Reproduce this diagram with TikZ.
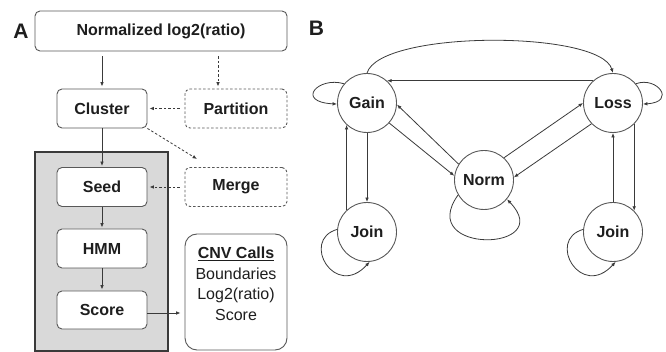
\documentclass[tikz,border=0pt]{standalone}
\usepackage{fontspec}
\setmainfont{Liberation Sans}
\usetikzlibrary{arrows.meta,calc}
\definecolor{ln}{HTML}{3A3A3A}
\definecolor{bx}{HTML}{585858}
\definecolor{gfill}{HTML}{D9D9D9}
\definecolor{txt}{HTML}{1E1E1E}
\begin{document}
\begin{tikzpicture}[x=1pt,y=-1pt,
  box/.style={draw=bx, line width=0.9pt, rounded corners=5pt, fill=white,
    minimum width=90pt, minimum height=39pt, inner sep=0pt,
    font=\fontsize{16}{19}\selectfont\bfseries, text=txt},
  dbox/.style={box, dash pattern=on 2.5pt off 2pt, minimum width=102pt},
  state/.style={circle, draw=bx, line width=0.9pt, minimum size=59pt, inner sep=0pt,
    font=\fontsize{16}{19}\selectfont\bfseries, text=txt},
  arr/.style={draw=ln, line width=0.8pt, -{Latex[length=4.5pt,width=3.6pt]}},
  darr/.style={arr, dash pattern=on 2.5pt off 2pt},
  lab/.style={font=\fontsize{21}{21}\selectfont\bfseries, text=txt, inner sep=0pt}]
\useasboundingbox (0,0) rectangle (666,352);

% ---------- Panel A ----------
\node[lab] (labA) at (21,31.5) {A};
\node[draw=ln, line width=1.6pt, fill=gfill, minimum width=133pt, minimum height=199pt, inner sep=0pt] (panel) at (101.5,251.5) {};

\node[box, minimum width=252pt, minimum height=40pt] (top) at (161,31) {Normalized log2(ratio)};
\node[box] (cluster) at (102,108.5) {Cluster};
\node[dbox] (partition) at (236,108.5) {Partition};
\node[box] (seed) at (102,187) {Seed};
\node[dbox] (merge) at (236,187) {Merge};
\node[box] (hmm) at (102,248.5) {HMM};
\node[box, minimum height=38pt] (score) at (102,310) {Score};
\node[draw=bx, line width=0.9pt, rounded corners=12pt, minimum width=102pt, minimum height=116pt, inner sep=0pt] (cnv) at (236,292) {};
\node[align=center, text=txt, font=\fontsize{16}{20.5}\selectfont, inner sep=0pt] (cnvtxt) at (236,284)
  {\textbf{\underline{CNV Calls}}\\Boundaries\\Log2(ratio)\\Score};

\coordinate (px) at (218,0);
\coordinate (mg) at (197,159);
\draw[arr, shorten <=5pt, shorten >=2pt] (top.south -| cluster.north) -- (cluster.north);
\draw[darr, shorten <=5pt, shorten >=2pt] (top.south -| px) -- (partition.north -| px);
\draw[darr, shorten <=5pt, shorten >=2pt] (partition.west) -- (cluster.east);
\draw[arr, shorten >=1pt] (cluster.south) -- (seed.north);
\draw[darr] (cluster.south east) -- (mg);
\draw[darr, shorten <=5pt, shorten >=2pt] (merge.west) -- (seed.east);
\draw[arr, shorten >=1pt] (seed.south) -- (hmm.north);
\draw[arr, shorten >=1pt] (hmm.south) -- (score.north);
\draw[arr, shorten >=4pt] ([yshift=-3pt]score.east) -- ([yshift=-3pt]score.east -| cnv.west);

% ---------- Panel B ----------
\node[lab] (labB) at (316.5,28.5) {B};
\node[state] (gain) at (367,103) {Gain};
\node[state] (loss) at (613,103) {Loss};
\node[state] (norm) at (484,180) {Norm};
\node[state] (joinl) at (367,232) {Join};
\node[state] (joinr) at (613,232) {Join};

% top arc gain -> loss
\draw[arr] (gain.north) .. controls (380,30) and (600,30) .. (loss.north);
% loss -> gain horizontal
\draw[arr] (loss.132) -- (gain.48);
% self loops
\draw[arr] (gain.140) .. controls (318,76) and (295,102) .. (gain.182);
\draw[arr] (loss.40) .. controls (657,76) and (677,102) .. (loss.-2);
\draw[arr] (joinl.175) .. controls (300,240) and (335,300) .. (joinl.-85);
\draw[arr] (joinr.175) .. controls (546,240) and (581,300) .. (joinr.-85);
\draw[arr] (norm.210) .. controls (415,255) and (558,252) .. (norm.-40);
% gain <-> norm
\draw[arr] (norm.148) -- (gain.-3);
\draw[arr] (gain.-42) -- (norm.172);
% norm <-> loss
\draw[arr] (norm.48) -- (loss.180);
\draw[arr] (loss.224) -- (norm.5);
% gain <-> join left
\draw[arr] (joinl.133) -- (gain.227);
\draw[arr] (gain.south) -- (joinl.north);
% loss <-> join right
\draw[arr] (joinr.north) -- (loss.south);
\draw[arr] (loss.-45) -- (joinr.45);
\end{tikzpicture}
\end{document}
